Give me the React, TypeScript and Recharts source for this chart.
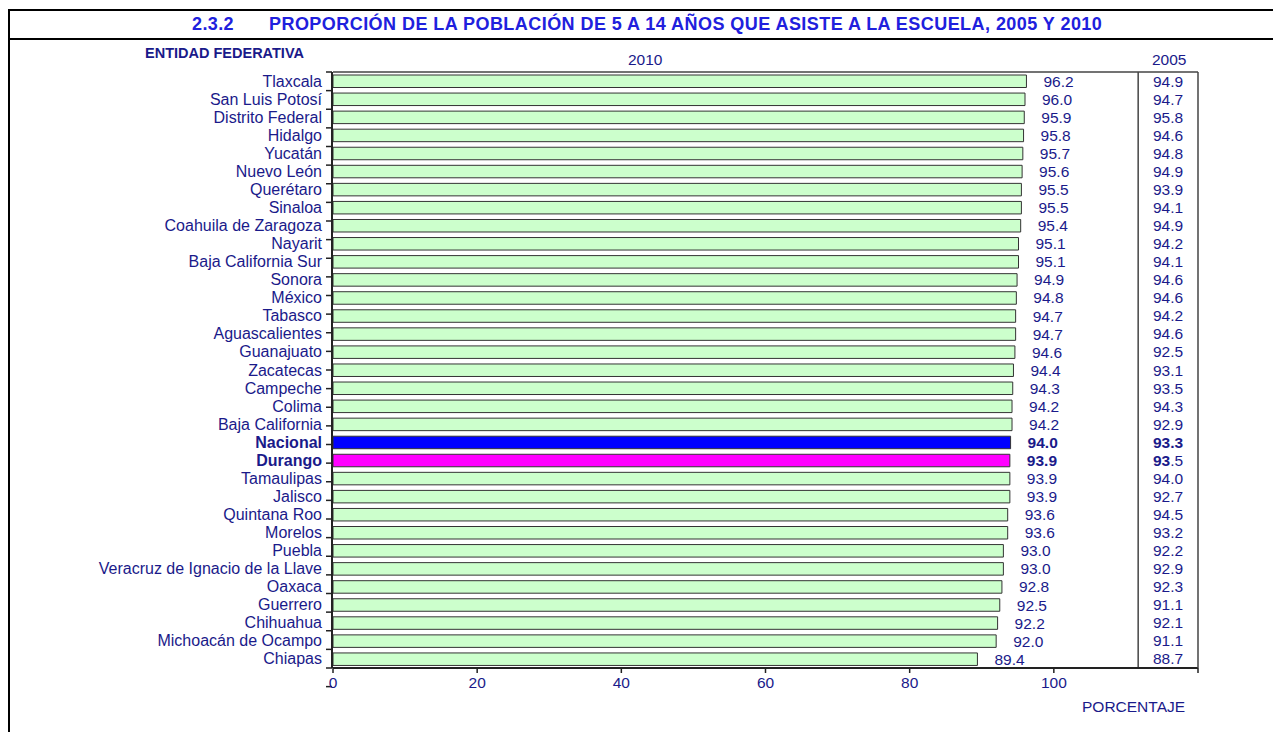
import { ComposedChart, Bar, XAxis, YAxis, Cell, LabelList, ReferenceLine } from "recharts";

const states = [
  "Tlaxcala",
  "San Luis Potosí",
  "Distrito Federal",
  "Hidalgo",
  "Yucatán",
  "Nuevo León",
  "Querétaro",
  "Sinaloa",
  "Coahuila de Zaragoza",
  "Nayarit",
  "Baja California Sur",
  "Sonora",
  "México",
  "Tabasco",
  "Aguascalientes",
  "Guanajuato",
  "Zacatecas",
  "Campeche",
  "Colima",
  "Baja California",
  "Nacional",
  "Durango",
  "Tamaulipas",
  "Jalisco",
  "Quintana Roo",
  "Morelos",
  "Puebla",
  "Veracruz de Ignacio de la Llave",
  "Oaxaca",
  "Guerrero",
  "Chihuahua",
  "Michoacán de Ocampo",
  "Chiapas",
];

const pct2010 = [
  96.2, 96.0, 95.9, 95.8, 95.7, 95.6, 95.5, 95.5, 95.4, 95.1, 95.1, 94.9, 94.8,
  94.7, 94.7, 94.6, 94.4, 94.3, 94.2, 94.2, 94.0, 93.9, 93.9, 93.9, 93.6, 93.6,
  93.0, 93.0, 92.8, 92.5, 92.2, 92.0, 89.4,
];

const pct2005 = [
  94.9, 94.7, 95.8, 94.6, 94.8, 94.9, 93.9, 94.1, 94.9, 94.2, 94.1, 94.6, 94.6,
  94.2, 94.6, 92.5, 93.1, 93.5, 94.3, 92.9, 93.3, 93.5, 94.0, 92.7, 94.5, 93.2,
  92.2, 92.9, 92.3, 91.1, 92.1, 91.1, 88.7,
];

const xTicks = [0, 20, 40, 60, 80, 100, 120];
const rowTicks = states.map((_, i) => i).concat(states.length);

const highlight: Record<string, string> = {
  Nacional: "#0000ff",
  Durango: "#ff00ff",
};

const data = states.map((name, i) => ({
  name,
  v2010: pct2010[i],
  v2005: pct2005[i],
}));

const NAVY = "#1a1a8a";
const FONT = "'Liberation Sans', Arial, sans-serif";

const StateTick = (props: any) => {
  const { x, y, payload } = props;
  const bold = highlight[payload.value] !== undefined;
  return (
    <text
      x={x}
      y={y}
      textAnchor="end"
      dominantBaseline="central"
      fill={NAVY}
      fontSize={16}
      fontWeight={bold ? "bold" : "normal"}
    >
      {payload.value}
    </text>
  );
};

const Tick2005 = (props: any) => {
  const { x, y, payload } = props;
  const row = data.find((d) => d.name === payload.value);
  if (!row) return null;
  const txt = row.v2005.toFixed(1);
  let content: any = txt;
  if (row.name === "Nacional") {
    content = <tspan fontWeight="bold">{txt}</tspan>;
  } else if (row.name === "Durango") {
    // the source only bolds the integer part here
    const [a, b] = txt.split(".");
    content = (
      <>
        <tspan fontWeight="bold">{a}</tspan>
        <tspan>.{b}</tspan>
      </>
    );
  }
  return (
    <text
      x={x - 30}
      y={y}
      textAnchor="middle"
      dominantBaseline="central"
      fill={NAVY}
      fontSize={15.5}
    >
      {content}
    </text>
  );
};

const ValueLabel = (props: any) => {
  const { x, y, width, height, value, index } = props;
  const bold = highlight[states[index]] !== undefined;
  return (
    <text
      x={x + width + 17}
      y={y + height / 2}
      dominantBaseline="central"
      fill={NAVY}
      fontSize={15.5}
      fontWeight={bold ? "bold" : "normal"}
    >
      {Number(value).toFixed(1)}
    </text>
  );
};

const abs = (style: any) => ({ position: "absolute" as const, ...style });

export default function App() {
  return (
    <div
      style={{
        position: "absolute",
        left: 0,
        top: 0,
        width: 1273,
        height: 732,
        background: "#fff",
        fontFamily: FONT,
        overflow: "hidden",
      }}
    >
      {/* frame + title box */}
      <div style={abs({ left: 8, top: 9, width: 1265, height: 2, background: "#000" })} />
      <div style={abs({ left: 8, top: 38, width: 1265, height: 2, background: "#000" })} />
      <div style={abs({ left: 8, top: 9, width: 2, height: 723, background: "#000" })} />
      <div
        style={abs({
          left: 192,
          top: 14,
          color: "#2020dd",
          fontWeight: "bold",
          fontSize: 18,
          letterSpacing: 0.4,
          whiteSpace: "nowrap",
        })}
      >
        2.3.2
      </div>
      <div
        style={abs({
          left: 269,
          top: 14,
          color: "#2020dd",
          fontWeight: "bold",
          fontSize: 18,
          letterSpacing: 0.45,
          whiteSpace: "nowrap",
        })}
      >
        PROPORCIÓN DE LA POBLACIÓN DE 5 A 14 AÑOS QUE ASISTE A LA ESCUELA, 2005 Y 2010
      </div>
      <div
        style={abs({
          left: 145,
          top: 45,
          color: NAVY,
          fontWeight: "bold",
          fontSize: 14.5,
          whiteSpace: "nowrap",
        })}
      >
        ENTIDAD FEDERATIVA
      </div>
      <div style={abs({ left: 628, top: 51, color: NAVY, fontSize: 15.5 })}>2010</div>
      <div style={abs({ left: 1152, top: 51, color: NAVY, fontSize: 15.5 })}>2005</div>
      <div style={abs({ left: 1082, top: 698, color: NAVY, fontSize: 15.5 })}>PORCENTAJE</div>

      <div style={abs({ left: 0, top: 0 })}>
        <ComposedChart
          width={1273}
          height={732}
          data={data}
          layout="vertical"
          margin={{ top: 71, right: 74, bottom: 34, left: 0 }}
        >
          <XAxis
            xAxisId="main"
            type="number"
            orientation="bottom"
            domain={[0, 120]}
            ticks={xTicks}
            allowDataOverflow
            height={30}
            tickSize={5}
            tickMargin={4}
            tickFormatter={(v) => (v === 120 ? "" : String(v))}
            tick={{ fill: NAVY, fontSize: 15.5 }}
            axisLine={{ stroke: "#222", strokeWidth: 2 }}
            tickLine={{ stroke: "#222", strokeWidth: 1.5 }}
          />
          <XAxis
            xAxisId="top"
            type="number"
            orientation="top"
            domain={[0, 120]}
            ticks={xTicks}
            allowDataOverflow
            height={1}
            tick={false}
            tickLine={false}
            axisLine={{ stroke: "#444", strokeWidth: 1.5 }}
          />
          <YAxis
            yAxisId="cat"
            type="category"
            dataKey="name"
            orientation="left"
            width={1}
            interval={0}
            axisLine={false}
            tickLine={false}
            tickSize={0}
            tickMargin={11}
            tick={<StateTick />}
          />
          <YAxis
            yAxisId="rows"
            type="number"
            orientation="left"
            domain={[0, states.length]}
            ticks={rowTicks}
            allowDataOverflow
            width={332}
            tickSize={6}
            tickFormatter={() => ""}
            axisLine={{ stroke: "#222", strokeWidth: 2 }}
            tickLine={{ stroke: "#222", strokeWidth: 1.5 }}
          />
          <YAxis
            yAxisId="y2005"
            type="category"
            dataKey="name"
            orientation="right"
            width={1}
            interval={0}
            tickLine={false}
            tickSize={0}
            tickMargin={0}
            axisLine={{ stroke: "#444", strokeWidth: 1.5 }}
            tick={<Tick2005 />}
          />
          <ReferenceLine
            x={111.7}
            xAxisId="main"
            yAxisId="cat"
            stroke="#444"
            strokeWidth={1.5}
          />
          <Bar
            dataKey="v2010"
            xAxisId="main"
            yAxisId="cat"
            barSize={12.5}
            stroke="#333"
            strokeWidth={1}
            isAnimationActive={false}
          >
            {data.map((d) => (
              <Cell key={d.name} fill={highlight[d.name] ?? "#ccffcc"} />
            ))}
            <LabelList dataKey="v2010" content={<ValueLabel />} />
          </Bar>
        </ComposedChart>
      </div>
    </div>
  );
}
